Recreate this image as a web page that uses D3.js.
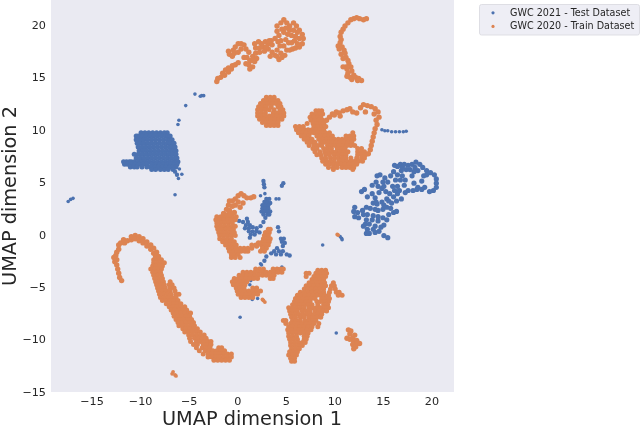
<!DOCTYPE html>
<html>
<head>
<meta charset="utf-8">
<script src="https://cdn.jsdelivr.net/npm/d3@7"></script>
<style>
  html, body { margin: 0; padding: 0; background: #fff; }
  text { font-family: "DejaVu Sans", sans-serif; fill: #262626; }
  svg { filter: blur(0.3px); }
</style>
</head>
<body>
<div id="chart"></div>
<script>
const xTicks = [-15, -10, -5, 0, 5, 10, 15, 20];
const yTicks = [-15, -10, -5, 0, 5, 10, 15, 20];
const seriesNames = ["GWC 2021 - Test Dataset", "GWC 2020 - Train Dataset"];

// dense clusters are kept as rows: [y, x, x, x ...]
const testBlobRows = [
  [9.7, -9.9, -9.5, -9.1, -8.7, -8.3, -7.9, -7.5, -7.2],
  [9.4, -10.4, -10.2, -9.8, -9.4, -9, -8.6, -8.2, -7.8, -7.4, -7.1, -6.9],
  [9.05, -10.4, -10.2, -9.9, -9.6, -9.2, -8.8, -8.4, -8, -7.6, -7.2, -6.9, -6.7],
  [8.7, -10.3, -10, -9.6, -9.2, -8.8, -8.4, -8, -7.6, -7.2, -6.9, -6.6, -6.5],
  [8.35, -10.2, -9.8, -9.4, -9, -8.6, -8.2, -7.8, -7.4, -7, -6.7, -6.4],
  [8, -10.1, -9.7, -9.3, -8.9, -8.5, -8.1, -7.7, -7.3, -6.9, -6.6, -6.3],
  [7.65, -10.6, -10.2, -9.8, -9.4, -9, -8.6, -8.2, -7.8, -7.4, -7, -6.6, -6.3],
  [7.3, -10.4, -10, -9.6, -9.2, -8.8, -8.4, -8, -7.6, -7.2, -6.8, -6.4, -6.2],
  [6.95, -11.7, -11.4, -11.1, -10.9, -10.6, -10.2, -9.8, -9.4, -9, -8.6, -8.2, -7.8, -7.4, -7, -6.6, -6.3, -6.1],
  [6.7, -11.6, -11.3, -10.9, -10.5, -10.1, -9.7, -9.3, -8.8, -8.4, -8, -7.6, -7.2, -6.8, -6.4, -6.2],
  [6.45, -11, -10.6, -10.3, -9.8, -9.3, -8.9, -8.5, -8.1, -7.7, -7.3, -6.9, -6.6, -6.3],
  [6.2, -8.8, -8.4, -7.9, -7.5, -7.1, -6.6]
];
const testSpecks = [
  [-6.05, 5.35], [-5.7, 5.75], [-5.95, 6.25], [-4.35, 13.4], [-3.8, 13.2], [-3.65, 13.25], [-3.45, 13.25], [-5.3, 12.3], [-6, 10.9], [-6.1, 10.5],
  [-17.4, 3.15], [-17.15, 3.35], [-16.9, 3.45], [-6.4, 3.8], [2.85, 3.9], [2.4, 3.7], [4, 3.4], [4.3, 3.4],
  [2.4, -2.8], [2.5, -2.9], [4.6, -3.1], [4.2, -3.3], [1.4, -4.4], [1.3, -4.8], [1.55, -6.2], [2.1, -6.1], [0.3, -7.9], [8.8, -1], [10.75, -0.35], [10.6, -0.2], [10.8, -0.5], [10.2, -9.4],
  [14.9, 10], [15.2, 9.9], [15.5, 9.9], [15.9, 9.8], [16.3, 9.8], [16.7, 9.8], [17.1, 9.8], [17.4, 9.85]
];
const testPoints = [
  [-6.4, 6], [-6.2, 5.7],
  // center column and bits
  [2.7, 5.1], [2.75, 4.8], [2.8, 4.5], [4.75, 4.9], [4.6, 4.65],
  [3, 3.4], [3.3, 3.4], [2.8, 3.1], [3.1, 3.1], [3.4, 3.0], [2.6, 2.8], [2.9, 2.8], [3.2, 2.8], [2.6, 2.5], [2.9, 2.5], [3.2, 2.5],
  [2.5, 2.2], [2.85, 2.2], [3.15, 2.2], [3.4, 2.2], [2.7, 1.9], [3.1, 1.9], [3.3, 1.9], [2.9, 1.6], [2.7, 1.2],
  [1, 1.5], [0.6, 1.2], [1.1, 1.2], [0.2, 1.3], [0.9, 0.9], [1.3, 0.9], [0.8, 0.6], [1.2, 0.6], [1.6, 0.7], [2, 0.6], [2.4, 0.8],
  [1.2, 0.3], [1.6, 0.3], [2, 0.3], [1.4, 0], [1.8, 0], [2.3, 0.2], [1.3, -0.3], [4.2, 0.7], [4.3, 0.3],
  [4.5, -0.4], [4.8, -0.4], [4.6, -0.7], [4.9, -0.8], [4.7, -1.1], [4.1, -1.3], [4.3, -1.6], [3.8, -1.6], [4.7, -1.6], [5.1, -1.9], [5.4, -2],
  [3.5, -1.8], [4, -1.9], [4.5, -1.9], [3, -2.1], [2.8, -2.5]
];
const testCrescent = [
  [16.8, 6.7], [17.2, 6.7], [17.6, 6.6], [18, 6.7], [18.4, 6.9], [18.8, 6.7], [19.1, 6.4], [19.5, 6.1], [19.9, 5.9], [20.3, 5.7], [20.5, 5.3], [20.5, 4.9], [20.5, 4.5], [20.2, 4.2], [19.8, 4.1],
  [19.2, 5.6], [19, 5.1], [18.6, 6.1], [18.2, 6], [18, 5.6], [17.8, 6.2], [17.4, 6.2], [16.9, 6.1], [16.5, 6.5], [16.2, 6.6], [16.1, 6], [16.5, 5.7], [17, 5.6], [17.3, 5.2], [16.8, 5.2], [16.3, 5.2],
  [15.8, 5.6], [15.5, 5], [15, 5], [14.7, 5.7], [14.4, 5.6], [14.3, 5], [13.9, 4.7], [16, 4.6], [16.5, 4.6], [17.2, 4.7], [17.6, 4.2], [17.3, 4], [18.2, 4.9], [18.6, 4.5], [19, 4.3], [19.3, 4.5], [18.5, 4.3], [18.1, 4.2],
  [12.8, 4.1], [13.1, 4.3], [13.4, 3.6], [13.9, 3.9], [14.2, 3.5], [14.6, 4], [14.9, 4.4], [15.3, 4.1], [15.7, 3.9], [16.1, 3.6], [16.5, 3.9], [16.9, 3.4], [16.4, 3.2], [15.9, 3], [15.4, 3.4], [14.9, 3.1],
  [14.4, 2.9], [14, 3], [13.7, 2.5], [14.2, 2.4], [13.3, 2.6], [12.9, 2.3], [12.4, 2.1], [12.1, 2.6], [12, 2.2], [12.1, 1.7], [12.5, 1.6], [13, 1.9], [13.4, 1.9], [14, 1.8], [14.5, 1.7], [15, 2.4], [15.4, 2.6],
  [15.8, 2.5], [16.1, 2.1], [16.4, 2.2], [15.6, 1.9], [15.4, 1.4], [15.1, 0.9], [15, 1.6], [14.5, 1.3], [14.8, 0.7], [14.2, 0.8], [14, 0.5], [13.6, 1], [13.2, 1], [13, 0.8], [13.4, 0.5], [13.6, 0.1], [13.3, 0.1],
  [14.2, 0.2], [14.6, 0.3], [15.1, -0.1], [15.5, -0.3],
  [17, 6.4], [18.3, 6.4], [19.5, 5.7], [15.2, 5.4], [15.1, 4.6], [14.5, 4.6], [16.2, 4.2], [16.7, 4.2], [15.6, 3.2], [15.1, 2.8], [14.5, 2.3], [13.9, 1.4], [13.3, 1.4], [14.3, 3.1]
];

const trainSpecks = [
  [-6.6, -13.1], [-6.4, -13.4], [-6.7, -13.3], [-6.3, -13.5], [10.3, 0], [10.4, -0.05], [2.7, -6.3], [2.85, -6.45], [2.6, -6.2]
];
const trainPoints = [
  // top band
  [-2.1, 14.6], [-2, 14.9], [-1.7, 15], [-1.5, 15.4], [-1.3, 15.2], [-1.2, 15.7], [-0.9, 15.5], [-0.9, 15.9], [-0.6, 15.8], [-0.5, 16.1], [-0.2, 16.2], [0.1, 16.4],
  [-0.8, 17.2], [-0.9, 17.5], [-0.5, 17], [-0.4, 17.6], [-0.2, 17.9], [0.1, 18.2], [0.4, 18.2], [0.7, 18.1], [0.4, 17.7], [0.9, 17.7], [1.2, 17.4], [0.7, 16.9], [1, 16.9], [1.3, 16.6], [1.2, 16.2], [1.6, 16], [1.3, 15.8],
  [1.8, 16.5], [1.6, 17], [2, 16.8], [1.9, 17.3], [2.3, 17.4], [1.9, 17.8], [1.8, 18.2], [2.2, 18.4], [2.5, 18.2], [2.3, 17.8], [2.7, 17.9], [2.9, 18.4], [3.2, 18.2], [2.8, 17.5], [3.2, 17.7], [3.5, 18.5], [3.6, 18.1], [3.6, 17.4], [3.9, 17.1],
  [4.3, 16.7], [4.6, 16.9], [4.9, 17.1], [4.1, 17.6], [4.5, 17.3], [5.1, 17.6], [5.4, 17.6], [5.7, 17.7], [6, 17.8], [6.4, 17.9], [6.7, 18.2], [6.8, 18.7], [6.7, 19.1], [6.4, 19.5], [6.1, 19.9], [5.8, 20.2], [5.4, 19.9], [5.1, 20.2], [4.8, 20.5], [4.5, 20.2],
  [4.1, 19.9], [4.1, 19.4], [4.3, 19], [3.9, 18.7], [4.5, 18.5], [4.8, 18], [5, 18.6], [5.3, 18.3], [5.6, 18.3], [5.9, 18.5], [6.2, 18.2], [6.4, 18.7], [6, 18.9], [5.6, 19], [5.2, 19.1], [4.8, 19.3], [4.6, 19.6], [5, 19.7], [5.4, 19.5], [5.8, 19.5], [6.2, 19.3], [4.4, 18], [4.2, 18.4],
  [-0.3, 17.3], [0.1, 17.4], [3, 17.9], [3.4, 17], [4.1, 17], [3.3, 18.5], [0.9, 16.3], [1.6, 16.6],
  // top right curve
  [13.3, 20.6], [13, 20.5], [12.6, 20.6], [12.3, 20.7], [12, 20.6], [11.7, 20.5], [11.4, 20.2], [11.1, 19.9], [10.9, 19.6], [10.7, 19.3], [10.6, 18.9], [10.7, 18.6], [10.6, 18.3], [10.4, 18], [10.5, 17.7], [10.8, 17.9], [11, 17.6], [10.7, 17.2], [11.1, 17.3], [11.2, 16.9], [10.9, 16.8],
  [11.4, 16.6], [11.5, 16.3], [11.2, 16], [11.7, 16], [11.3, 15.8], [10.9, 16], [11.8, 15.6], [11.4, 15.4], [12, 15.2], [11.6, 15], [11.3, 15.1], [11.8, 14.8], [12.2, 15], [12.5, 14.9], [12.8, 14.7], [12.4, 14.7],
  // loop arc
  [9.2, 10.9], [9.5, 11.2], [9.8, 11.5], [10.2, 11.7], [10.5, 11.6], [10.9, 11.8], [11.3, 11.9], [11.6, 12], [11.9, 11.7], [12.3, 11.6], [12.7, 12.1], [13, 12.4], [13.4, 12.3], [13.2, 11.7], [13.8, 12.2], [14.2, 12], [14.5, 11.7], [14.1, 11.5], [14.6, 11.2], [14.3, 10.9], [14.4, 10.5], [14.2, 10.1], [14.1, 9.7], [14, 9.3], [13.9, 8.9], [13.8, 8.5], [13.7, 8.1], [13.5, 7.7],
  [8.9, 10.6], [9.1, 10.3], [10, 11.4], [10.6, 11.3],
  // center ring, top
  [1.7, 3.6], [1.4, 3.5], [1, 3.5], [0.7, 3.7], [0.4, 3.9], [0.1, 3.7], [-0.2, 3.4], [-0.5, 3.2], [-0.8, 3.2], [-0.9, 2.8], [-0.5, 2.7], [-1.1, 2.4], [-0.8, 2.3], [-0.2, 2.8], [0.3, 2.6], [0.6, 3], [0.1, 3.1], [-1.4, 2], [-1, 1.9], [-0.7, 2], [-0.3, 2.1],
  [2.2, -0.8], [2, -1.1],
  // long curve, thin end
  [-11.9, -4.4], [-12.1, -4.1], [-12.2, -3.7], [-12.3, -3.3], [-12.4, -2.9], [-12.6, -2.6], [-12.4, -2.4], [-12.7, -2.2], [-12.5, -2], [-12.4, -1.7], [-12.2, -1.4], [-12.2, -1], [-12, -0.8], [-11.6, -0.8], [-11.7, -0.5], [-11.3, -0.6], [-10.9, -0.5], [-10.9, -0.2],
  [-10.5, -0.1], [-10.5, -0.4], [-10.1, -0.2], [-10.1, -0.6], [-9.7, -0.4], [-9.7, -0.8], [-9.3, -0.7], [-9.3, -1.1], [-8.9, -1], [-8.9, -1.4], [-8.6, -1.3], [-8.6, -1.8], [-8.3, -1.7], [-8.4, -2.1], [-8.1, -2.1],
  // lower right speck cluster
  [11.45, -9.1], [11.7, -9.2], [11.6, -9.5], [12.1, -9.6], [11.9, -9.9], [11.3, -9.9], [11.6, -10], [12, -10.2], [12.3, -10.1], [12.6, -10.4], [12.3, -10.4], [11.9, -10.5], [12, -10.9], [12.2, -10.7]
];
const trainRows = [
  // long curve, thick part
  [-2.4, -8.6, -8.2, -7.8], [-2.7, -8.6, -8.2, -7.8, -7.5], [-3, -8.7, -8.4, -8, -7.7], [-3.3, -8.9, -8.5, -8.2, -7.8], [-3.6, -8.7, -8.3, -7.9], [-3.9, -8.6, -8.2, -7.8], [-4.2, -8.5, -8.1, -7.7],
  [-4.5, -8.4, -8, -7.6, -6.9], [-4.8, -8.3, -7.9, -7.5, -7, -6.7], [-5.1, -8.2, -7.8, -7.4, -6.9, -6.5], [-5.4, -8.1, -7.7, -7.3, -6.9, -6.4], [-5.7, -8, -7.6, -7.2, -6.8, -6.3, -6], [-6, -7.9, -7.5, -7.1, -6.7, -6.3],
  [-6.3, -7.7, -7.3, -6.9, -6.5, -6.1], [-6.6, -7.3, -6.9, -6.5, -6.1, -5.8], [-6.9, -7, -6.6, -6.2, -5.8, -5.4], [-7.2, -6.8, -6.4, -6, -5.6, -5.2], [-7.5, -6.6, -6.2, -5.8, -5.4, -5, -4.8], [-7.8, -6.5, -6.1, -5.7, -5.3, -4.9],
  [-8.1, -6.3, -5.9, -5.5, -5.1, -4.7], [-8.4, -6.1, -5.7, -5.3, -4.9, -4.5], [-8.7, -6, -5.6, -5.2, -4.8, -4.4], [-9, -5.6, -5.3, -4.9, -4.5, -4.1], [-9.3, -5.4, -5, -4.6, -4.2, -3.8], [-9.6, -5, -4.6, -4.2, -3.8, -3.4],
  [-9.9, -4.9, -4.4, -4, -3.6, -3.2], [-10.2, -4.8, -4.2, -3.8, -3.4, -3, -2.7], [-10.5, -4.5, -4.1, -3.5, -3.1, -2.7], [-10.8, -4.2, -3.6, -3.2, -2.8, -1.9, -1.6], [-11.1, -3.9, -3.3, -2.9, -2.5, -2.1, -1.7, -1.3],
  [-11.4, -3.5, -3, -2.6, -2.2, -1.8, -1.4, -1, -0.6], [-11.7, -3, -2.6, -2.2, -1.8, -1.4, -1, -0.6], [-12, -2.4, -2, -1.6, -1.2, -0.8],
  // round blob above center
  [13.1, 3, 3.4, 3.8], [12.8, 2.7, 3.1, 3.5, 3.9, 4.2], [12.5, 2.4, 2.8, 3.2, 3.6, 4, 4.4], [12.2, 2.2, 2.6, 3, 3.5, 4.2, 4.5], [11.9, 2.1, 2.5, 2.9, 3.3, 3.8, 4.4, 4.7], [11.6, 2.1, 2.5, 2.9, 3.7, 4.1, 4.5, 4.8],
  [11.3, 2.1, 2.5, 2.9, 3.3, 3.7, 4.1, 4.5, 4.8], [11, 2.3, 2.7, 3.1, 3.5, 3.9, 4.3, 4.6], [10.7, 2.6, 3, 3.4, 3.8, 4.2], [10.4, 3, 3.4, 3.8, 4.2],
  // loop blob
  [11.8, 8.1, 8.4, 8.7], [11.5, 7.7, 8.1, 8.5, 8.8], [11.2, 7.5, 7.9, 8.3, 8.6], [10.9, 7.6, 8, 8.4, 8.8], [10.6, 7.2, 7.8, 8.2, 8.6], [10.3, 6, 6.4, 6.8, 7.9, 8.3, 8.7], [10, 6.1, 6.5, 6.9, 7.3, 7.7, 8.1, 8.5, 8.9],
  [9.7, 6.3, 6.7, 7.1, 7.5, 7.9, 8.3, 8.7, 9.1, 9.5, 11.9], [9.4, 6.6, 7, 7.4, 8.2, 8.6, 9, 9.4, 9.8, 11.2, 11.6, 12], [9.1, 6.9, 7.3, 7.7, 8.4, 8.8, 9.2, 9.6, 10, 10.4, 10.8, 11.2, 11.6, 12],
  [8.8, 7.2, 7.6, 8, 8.6, 9, 9.4, 9.8, 10.2, 10.6, 11, 11.4, 11.8], [8.5, 7.4, 7.9, 8.3, 8.7, 9.3, 9.7, 10.1, 10.5, 10.9, 11.3, 11.7, 12.1], [8.2, 7.8, 8.2, 8.9, 9.3, 9.7, 10.3, 10.7, 11.1, 12.4, 12.8],
  [7.9, 8, 8.5, 9, 9.4, 9.8, 10.2, 10.6, 11, 11.4, 12.4, 12.8, 13.1], [7.6, 8.2, 8.6, 9.1, 9.5, 10, 10.4, 10.8, 11.2, 12.4, 12.8, 13.2], [7.3, 8.7, 9.1, 9.6, 10, 10.4, 10.8, 11.2, 11.7, 12.3, 12.8, 13.1],
  [7, 8.8, 9.2, 9.6, 10, 10.5, 10.9, 11.3, 11.7, 12.1, 12.5, 12.9], [6.7, 9.1, 9.5, 9.9, 10.3, 10.7, 11.1, 11.5, 11.9, 12.3], [6.4, 9.4, 9.9, 10.3, 10.8, 11.2, 11.6, 12], [6.2, 9.9, 11.9],
  // center ring, lower left
  [1.7, -2.1, -1.7, -1.3, -0.9, -0.5, -0.1], [1.4, -2.2, -1.8, -1.4, -1, -0.6, -0.2], [1.1, -2.1, -1.7, -1.3, -0.9, -0.5], [0.8, -2.1, -1.7, -1.3, -0.9, -0.5, -0.2], [0.5, -2, -1.6, -1.2, -0.8, -0.4, 3.2, 3.4],
  [0.2, -1.9, -1.5, -1.1, -0.7, -0.3, 2.9, 3.3], [-0.1, -1.8, -1.4, -1, -0.6, -0.2, 2.8, 3.2], [-0.4, -1.8, -1.4, -1, -0.6, 2.7, 3.1, 3.4], [-0.7, -1.5, -1.1, -0.7, -0.3, 2.6, 3, 3.3], [-1, -1.2, -0.8, -0.4, -0.1, 1.5, 1.9, 2.5, 2.9, 3.2],
  [-1.3, -0.9, -0.5, -0.1, 0.3, 0.7, 1.1, 1.5, 2.6, 3], [-1.6, -0.8, -0.4, 0, 0.4, 0.8, 1.1, 2.4, 2.8], [-1.9, -0.6, -0.2, 0.1], [-2.2, -0.6, -0.2, 0.3],
  // band below the ring
  [-3.3, 1.9, 2.3, 2.7, 3.7, 4.1, 4.5, 4.75], [-3.6, 0.6, 1, 1.4, 1.8, 2.2, 2.6, 3, 3.4, 3.8, 4.2, 4.6], [-3.9, 0.2, 0.6, 1, 1.4, 1.8, 2.2, 2.6, 3, 3.4, 3.8], [-4.2, -0.3, 0.1, 0.5, 0.9, 1.3, 1.7, 2.1, 3.4, 3.7], [-4.5, -0.5, -0.1, 0.3, 0.7, 1],
  [-4.8, -0.4, 0, 0.4, 0.8], [-5.1, -0.1, 0.3, 0.7, 1.6, 2], [-5.4, 0, 0.4, 0.8, 1.2, 1.6, 2, 2.4], [-5.7, 0.1, 0.5, 0.9, 1.3, 1.7, 2.1], [-6, 0.4, 0.8, 1.2, 1.6],
  // lower center blob
  [-3.4, 8.3, 8.7, 9.1], [-3.7, 7.1, 7.4, 8.1, 8.5, 8.9, 9.2], [-4, 7.1, 7.9, 8.3, 8.7, 9.1], [-4.3, 7.7, 8.1, 8.5, 8.9], [-4.6, 7.4, 7.8, 8.2, 8.6, 9, 9.9], [-4.9, 7.1, 7.5, 7.9, 8.3, 8.7, 9.1, 9.7, 10],
  [-5.2, 6.9, 7.3, 7.7, 8.1, 8.5, 8.9, 9.6, 10.1], [-5.5, 6.5, 6.9, 7.3, 7.7, 8.1, 8.5, 8.9, 9.5, 10.2, 10.5], [-5.8, 6.2, 6.6, 7, 7.4, 7.8, 8.2, 8.6, 9, 9.4, 10.4, 10.8], [-6.1, 6, 6.4, 6.8, 7.2, 7.6, 8, 8.7, 9.1, 9.5],
  [-6.4, 5.9, 6.3, 6.7, 7.1, 7.5, 8.2, 8.6, 9, 9.4], [-6.7, 5.7, 6.1, 6.5, 6.9, 7.3, 7.7, 8.3, 8.9, 9.3], [-7, 5.3, 5.7, 6.1, 6.5, 6.9, 7.4, 7.8, 8.2, 8.6, 9, 9.4], [-7.3, 5.4, 5.8, 6.2, 6.7, 7.1, 7.5, 8, 8.4, 8.8, 9.2],
  [-7.6, 5.5, 5.9, 6.3, 6.7, 7.1, 7.5, 7.9, 8.3, 8.7], [-7.9, 5.6, 6, 6.5, 6.9, 7.4, 7.8, 8.2, 8.6], [-8.2, 4.75, 5, 5.7, 6.1, 6.5, 7, 7.4, 7.8, 8.1], [-8.5, 5, 5.5, 5.9, 6.3, 6.7, 7.1, 7.5, 7.9, 8.4], [-8.8, 5.3, 5.7, 6.1, 6.5, 6.9, 7.3, 7.7, 8.3],
  [-9.1, 5.2, 5.6, 6, 6.4, 6.8, 7.2, 7.6], [-9.4, 5.3, 5.7, 6.1, 6.5, 6.9, 7.3], [-9.7, 5.3, 5.7, 6.1, 6.9, 7.2], [-10, 5.4, 5.8, 6.2, 6.9, 7.1], [-10.3, 5.5, 5.9, 6.3, 6.7, 7], [-10.6, 5.5, 5.9, 6.3, 6.7],
  [-10.9, 5.6, 6, 6.4], [-11.2, 5.4, 5.8, 6.2], [-11.5, 5.3, 5.7, 6.1], [-11.8, 5.5, 5.9], [-12.1, 5.6, 5.9]
];

const expandRows = rows => rows.flatMap(([y, ...xs]) => xs.map(x => [x, y]));

const width = 640,
  height = 427;
const plot = { left: 51, right: 454, top: 0, bottom: 392 };
const colors = ["#4c72b0", "#dd8452"];

const svg = d3
  .select("#chart")
  .append("svg")
  .attr("width", width)
  .attr("height", height)
  .style("display", "block");

const xScale = d3
  .scaleLinear()
  .domain([-19.17, 22.32])
  .range([plot.left, plot.right]);
const yScale = d3
  .scaleLinear()
  .domain([-15.03, 22.38])
  .range([plot.bottom, plot.top]);

svg
  .append("rect")
  .attr("x", plot.left)
  .attr("y", plot.top)
  .attr("width", plot.right - plot.left)
  .attr("height", plot.bottom - plot.top)
  .attr("fill", "#eaeaf2");

// dots get bigger the denser the cluster they stand for
function drawDots(points, color, radius) {
  svg
    .append("g")
    .selectAll("circle")
    .data(points)
    .join("circle")
    .attr("cx", d => xScale(d[0]))
    .attr("cy", d => yScale(d[1]))
    .attr("r", radius)
    .attr("fill", color);
}

// blue goes first, orange sits on top of it
drawDots(expandRows(testBlobRows), colors[0], 2.5);
drawDots(testCrescent, colors[0], 2.6);
drawDots(testPoints, colors[0], 2.2);
drawDots(testSpecks, colors[0], 1.8);
drawDots(expandRows(trainRows), colors[1], 2.5);
drawDots(trainPoints, colors[1], 2.7);
drawDots(trainSpecks, colors[1], 1.9);

const xAxis = svg
  .append("g")
  .attr("transform", `translate(0,${plot.bottom})`)
  .call(d3.axisBottom(xScale).tickValues(xTicks).tickSize(0).tickPadding(5));
const yAxis = svg
  .append("g")
  .attr("transform", `translate(${plot.left},0)`)
  .call(d3.axisLeft(yScale).tickValues(yTicks).tickSize(0).tickPadding(5));
[xAxis, yAxis].forEach(axis => {
  axis.select(".domain").remove();
  axis.selectAll("text").style("font-size", "11.2px").attr("fill", "#262626");
  axis.attr("font-family", null).attr("font-size", null);
});

svg
  .append("text")
  .attr("x", 252)
  .attr("y", 424.5)
  .attr("text-anchor", "middle")
  .style("font-size", "19.3px")
  .text("UMAP dimension 1");
svg
  .append("text")
  .attr("transform", "translate(15.5,196) rotate(-90)")
  .attr("text-anchor", "middle")
  .style("font-size", "19.3px")
  .text("UMAP dimension 2");

// legend
const legend = svg.append("g");
legend
  .append("rect")
  .attr("x", 479.5)
  .attr("y", 4.5)
  .attr("width", 160)
  .attr("height", 30.5)
  .attr("rx", 2)
  .attr("fill", "#eaeaf2")
  .attr("fill-opacity", 0.8)
  .attr("stroke", "#d8d8de")
  .attr("stroke-width", 0.8);
seriesNames.forEach((name, i) => {
  legend
    .append("circle")
    .attr("cx", 493)
    .attr("cy", 12.8 + i * 13.6)
    .attr("r", 1.6)
    .attr("fill", colors[i]);
  legend
    .append("text")
    .attr("x", 510)
    .attr("y", 15.6 + i * 13.7)
    .style("font-size", "9.6px")
    .text(name);
});
</script>
</body>
</html>
